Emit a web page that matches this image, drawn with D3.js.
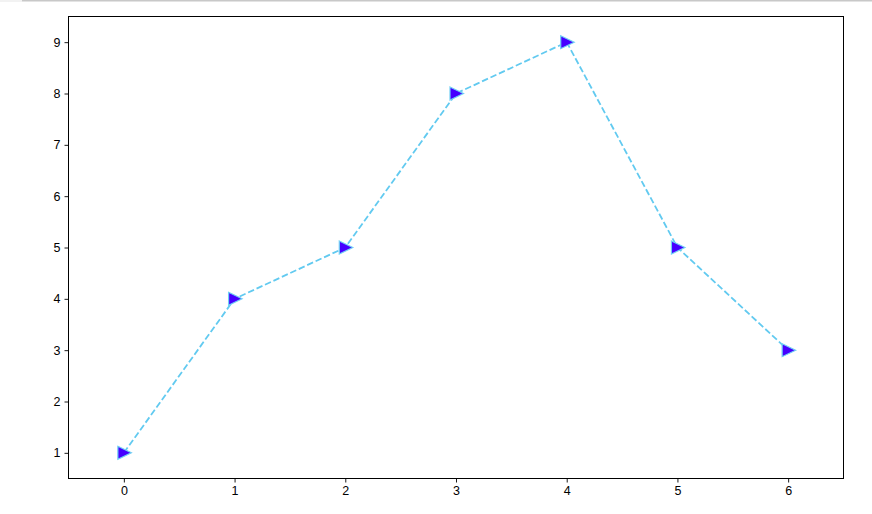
<!DOCTYPE html>
<html><head><meta charset="utf-8">
<script src="https://cdn.jsdelivr.net/npm/d3@7"></script>
<style>body{margin:0;background:#fff}svg{display:block}</style>
</head><body>
<script>
const xValues = [0, 1, 2, 3, 4, 5, 6];
const yValues = [1, 4, 5, 8, 9, 5, 3];
const xTicks = [0, 1, 2, 3, 4, 5, 6];
const yTicks = [1, 2, 3, 4, 5, 6, 7, 8, 9];

const W = 872, H = 514;
const m = {left: 68.5, right: 843.5, top: 16.5, bottom: 478.5};
const svg = d3.select("body").append("svg").attr("width", W).attr("height", H);

svg.append("rect").attr("x", 0).attr("y", 0).attr("width", 22).attr("height", 2).attr("fill", "#f2f2f2");
svg.append("rect").attr("x", 22).attr("y", 0).attr("width", W - 22).attr("height", 1.5).attr("fill", "#c8c8c8");

const x = d3.scaleLinear().domain([-0.5, 6.5]).range([m.left, m.right]);
const y = d3.scaleLinear().domain([0.5, 9.5]).range([m.bottom, m.top]);

const font = "'Liberation Sans', Arial, sans-serif";

const xAxis = svg.append("g").attr("transform", `translate(0,${m.bottom})`)
  .call(d3.axisBottom(x).tickValues(xTicks).tickFormat(d3.format("d")).tickSize(4).tickPadding(4));
const yAxis = svg.append("g").attr("transform", `translate(${m.left},0)`)
  .call(d3.axisLeft(y).tickValues(yTicks).tickFormat(d3.format("d")).tickSize(4).tickPadding(4));
[xAxis, yAxis].forEach(g => {
  g.select(".domain").remove();
  g.selectAll("line").attr("stroke", "#000").attr("stroke-width", 0.9);
  g.selectAll("text").attr("fill", "#000").style("font-family", font).style("font-size", "12.5px");
});

svg.append("rect").attr("x", m.left).attr("y", m.top)
  .attr("width", m.right - m.left).attr("height", m.bottom - m.top)
  .attr("fill", "none").attr("stroke", "#000").attr("stroke-width", 1);

const pts = xValues.map((v, i) => [v, yValues[i]]);
svg.append("path").datum(pts)
  .attr("d", d3.line().x(d => x(d[0])).y(d => y(d[1])))
  .attr("fill", "none").attr("stroke", "#62caf0").attr("stroke-width", 1.8)
  .attr("stroke-dasharray", "6.5,2.8");

const tri = "M-6,-6.5 L7.5,0 L-6,6.5 Z";
svg.selectAll(".mk").data(pts).enter().append("path")
  .attr("transform", d => `translate(${x(d[0])},${y(d[1])})`)
  .attr("d", tri)
  .attr("fill", "#4600ff").attr("stroke", "#72d0f4").attr("stroke-width", 1.2)
  .attr("stroke-linejoin", "miter");
</script>
</body></html>
